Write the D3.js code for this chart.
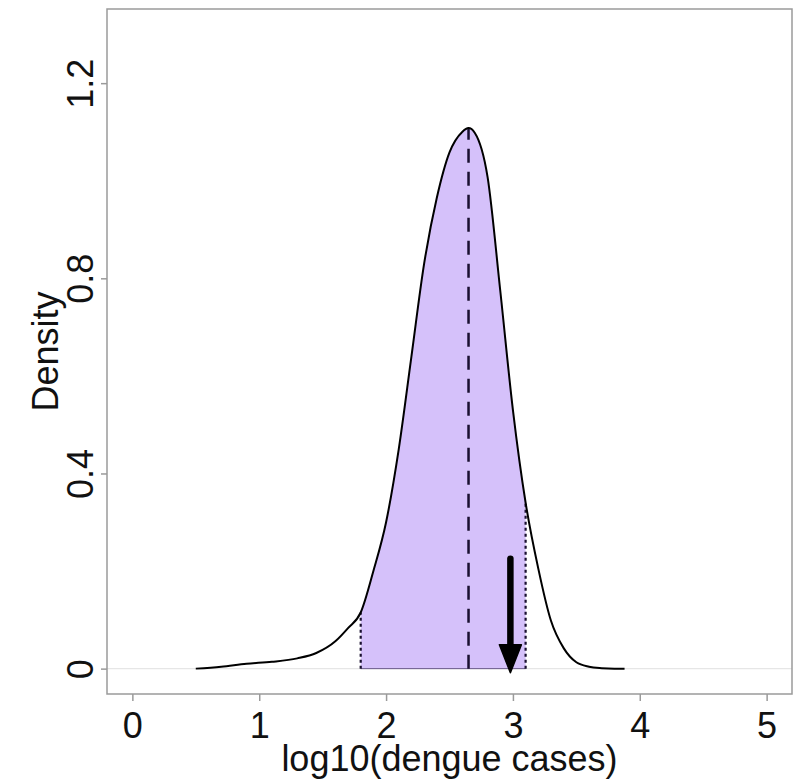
<!DOCTYPE html>
<html>
<head>
<meta charset="utf-8">
<script src="https://cdn.jsdelivr.net/npm/d3@7"></script>
<style>
  html, body { margin: 0; padding: 0; background: #ffffff; }
  svg { display: block; }
  text { font-family: "Liberation Sans", Arial, Helvetica, sans-serif; fill: #111; }
</style>
</head>
<body>
<svg id="chart" width="800" height="779"></svg>
<script>
// ---- data ----
const xVals    = [0.5, 0.7, 0.9, 1.1, 1.3, 1.45, 1.6, 1.7, 1.8, 1.9, 2.0, 2.1, 2.2, 2.3, 2.4, 2.5, 2.6, 2.65, 2.7, 2.8, 2.9, 3.0, 3.1, 3.2, 3.3, 3.4, 3.5, 3.6, 3.7, 3.8, 3.88];
const densVals = [0.0, 0.004, 0.010, 0.014, 0.021, 0.032, 0.056, 0.083, 0.115, 0.20, 0.30, 0.45, 0.64, 0.83, 0.965, 1.058, 1.100, 1.108, 1.098, 1.008, 0.775, 0.53, 0.34, 0.205, 0.098, 0.042, 0.013, 0.004, 0.001, 0.0, 0.0];
const ciBounds = [1.8, 3.1];
const medianVal = [2.65];
const observedVal = [2.98];
const arrowTopVal = [0.225];
const xTicks = [0, 1, 2, 3, 4, 5];
const yTicks = [0, 0.4, 0.8, 1.2];
const yTickLabels = ["0", "0.4", "0.8", "1.2"];
const xTitle = "log10(dengue cases)";
const yTitle = "Density";

// ---- layout ----
const box = { left: 107, right: 792, top: 9, bottom: 694 };
const svg = d3.select("#chart");

const x = d3.scaleLinear().domain([-0.2, 5.2]).range([box.left, box.right]);
const y = d3.scaleLinear().domain([-0.052, 1.352]).range([box.bottom, box.top]);

const pts = xVals.map((v, i) => ({ x: v, y: densVals[i] }));
const curve = d3.curveMonotoneX;

function densAt(v) {
  for (let i = 0; i < xVals.length - 1; i++) {
    if (v >= xVals[i] && v <= xVals[i + 1]) {
      const t = (v - xVals[i]) / (xVals[i + 1] - xVals[i]);
      return densVals[i] + t * (densVals[i + 1] - densVals[i]);
    }
  }
  return 0;
}

// clip for shaded interval
svg.append("defs").append("clipPath").attr("id", "ciClip")
  .append("rect")
  .attr("x", x(ciBounds[0])).attr("y", box.top)
  .attr("width", x(ciBounds[1]) - x(ciBounds[0]))
  .attr("height", y(0) - box.top);

// zero reference line
svg.append("line")
  .attr("x1", box.left).attr("x2", box.right)
  .attr("y1", y(0)).attr("y2", y(0))
  .attr("stroke", "#e6e6e6").attr("stroke-width", 1.2);

// shaded area
const area = d3.area().x(d => x(d.x)).y0(y(0)).y1(d => y(d.y)).curve(curve);
svg.append("path")
  .datum(pts)
  .attr("d", area)
  .attr("fill", "#d5c1fa")
  .attr("clip-path", "url(#ciClip)");

// bottom edge of shaded area
svg.append("line")
  .attr("x1", x(ciBounds[0])).attr("x2", x(ciBounds[1]))
  .attr("y1", y(0)).attr("y2", y(0))
  .attr("stroke", "#6a5a8a").attr("stroke-width", 1);

// CI dotted lines
svg.selectAll("line.ci").data(ciBounds).enter().append("line")
  .attr("class", "ci")
  .attr("x1", d => x(d)).attr("x2", d => x(d))
  .attr("y1", y(0)).attr("y2", d => y(densAt(d)))
  .attr("stroke", "#1a1030").attr("stroke-width", 2.2)
  .attr("stroke-dasharray", "3,3");

// median dashed line
svg.selectAll("line.med").data(medianVal).enter().append("line")
  .attr("class", "med")
  .attr("x1", d => x(d)).attr("x2", d => x(d))
  .attr("y1", y(0)).attr("y2", d => y(densAt(d)))
  .attr("stroke", "#1a1030").attr("stroke-width", 2.5)
  .attr("stroke-dasharray", "14,9");

// density curve
const line = d3.line().x(d => x(d.x)).y(d => y(d.y)).curve(curve);
svg.append("path")
  .datum(pts)
  .attr("d", line)
  .attr("fill", "none")
  .attr("stroke", "#000")
  .attr("stroke-width", 2);

// arrow for observed value
observedVal.forEach(v => {
  const ax = x(v), yTop = y(arrowTopVal[0]), yTip = y(0) + 4;
  const headLen = 28, headHalf = 11;
  svg.append("line")
    .attr("x1", ax).attr("x2", ax)
    .attr("y1", yTop).attr("y2", yTip - headLen + 4)
    .attr("stroke", "#000").attr("stroke-width", 6.5)
    .attr("stroke-linecap", "round");
  svg.append("path")
    .attr("d", `M${ax - headHalf},${yTip - headLen} L${ax + headHalf},${yTip - headLen} L${ax},${yTip} Z`)
    .attr("fill", "#000").attr("stroke", "#000").attr("stroke-width", 1.5)
    .attr("stroke-linejoin", "round");
});

// plot box
svg.append("rect")
  .attr("x", box.left).attr("y", box.top)
  .attr("width", box.right - box.left).attr("height", box.bottom - box.top)
  .attr("fill", "none").attr("stroke", "#9a9a9a").attr("stroke-width", 1.5);

// x axis ticks and labels
const xAxisG = svg.append("g").attr("transform", `translate(0,${box.bottom})`)
  .call(d3.axisBottom(x).tickValues(xTicks).tickSize(7).tickFormat(d3.format("d")));
xAxisG.select(".domain").remove();
xAxisG.selectAll(".tick line").attr("stroke", "#9a9a9a").attr("stroke-width", 1.5);
xAxisG.selectAll(".tick text")
  .attr("y", 0).attr("dy", null)
  .attr("transform", "translate(0,44)")
  .style("font-size", "36px")
  .style("font-family", '"Liberation Sans", Arial, sans-serif')
  .attr("fill", "#111");

// y axis ticks and labels
const yAxisG = svg.append("g").attr("transform", `translate(${box.left},0)`)
  .call(d3.axisLeft(y).tickValues(yTicks).tickSize(6).tickFormat((d, i) => yTickLabels[i]));
yAxisG.select(".domain").remove();
yAxisG.selectAll(".tick line").attr("stroke", "#9a9a9a").attr("stroke-width", 1.5);
yAxisG.selectAll(".tick text")
  .attr("x", 0).attr("dy", null)
  .attr("transform", "translate(-14,0) rotate(-90)")
  .attr("text-anchor", "middle")
  .attr("y", 0)
  .style("font-size", "36px")
  .style("font-family", '"Liberation Sans", Arial, sans-serif')
  .attr("fill", "#111");

// axis titles
svg.append("text")
  .attr("x", (box.left + box.right) / 2).attr("y", 771)
  .attr("text-anchor", "middle")
  .style("font-size", "36px")
  .text(xTitle);

svg.append("text")
  .attr("transform", `translate(58,${(box.top + box.bottom) / 2}) rotate(-90)`)
  .attr("text-anchor", "middle")
  .style("font-size", "36px")
  .text(yTitle);
</script>
</body>
</html>
